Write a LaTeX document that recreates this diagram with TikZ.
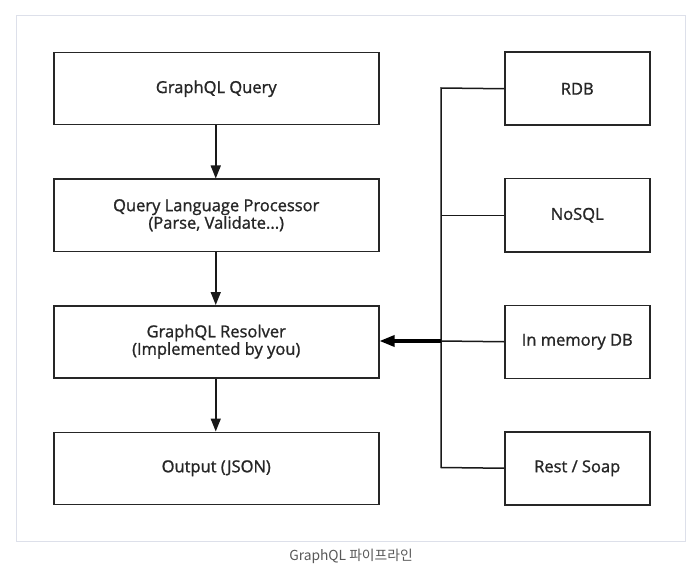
\documentclass[tikz,border=0pt]{standalone}
\usepackage{fontspec}
\setmainfont{Open Sans}
\newfontfamily\semib{Open Sans}[FakeBold=1.2]
\newfontfamily\cjkfont{Noto Sans CJK KR}
\usetikzlibrary{arrows.meta}
\begin{document}
\begin{tikzpicture}[x=1pt,y=-1pt,
  boxl/.style={draw=black!85,line width=1.5pt,minimum width=325pt,minimum height=72pt,inner sep=0pt,align=center,font=\semib\fontsize{16.5}{17.5}\selectfont,text=black!85,anchor=north west},
  boxr/.style={draw=black!85,line width=1.5pt,minimum width=145pt,minimum height=73pt,inner sep=0pt,align=center,font=\semib\fontsize{16.5}{17.5}\selectfont,text=black!85,anchor=north west},
  flow/.style={draw=black!90,line width=1.5pt,-{Triangle[length=13pt,width=10pt]}},
  wire/.style={draw=black!90,line width=1.5pt},
  bigflow/.style={draw=black,line width=3.2pt,-{Triangle[length=15pt,width=11pt]}}]
\useasboundingbox (0,0) rectangle (691,575);
\fill[white] (0,0) rectangle (691,575);
\node[draw={rgb,255:red,221;green,224;blue,234},line width=1pt,minimum width=669pt,minimum height=525pt,anchor=north west,inner sep=0pt] (frame) at (16,15.5) {};
\node[boxl] (q) at (53,52) {GraphQL Query};
\node[boxl] (p) at (53,178.5) {Query Language Processor\\(Parse, Validate...)};
\node[boxl] (r) at (53,305) {GraphQL Resolver\\(Implemented by you)};
\node[boxl] (o) at (53,431.5) {Output (JSON)};
\node[boxr] (rdb) at (504,51.5) {RDB};
\node[boxr] (nosql) at (504,178) {NoSQL};
\node[boxr] (mem) at (504,304.5) {In memory DB};
\node[boxr] (rest) at (504,431) {Rest / Soap};
\coordinate (t) at (441,88);
\coordinate (b) at (441,467.5);
\coordinate (m) at (441,341);
\draw[flow] ([xshift=-0.5pt]q.south) -- ([xshift=-0.5pt]p.north);
\draw[flow] ([xshift=-0.5pt]p.south) -- ([xshift=-0.5pt]r.north);
\draw[flow] ([xshift=-0.5pt]r.south) -- ([xshift=-0.5pt]o.north);
\draw[wire] (rdb.west) -- (t) -- (b) -- (rest.west);
\draw[wire] (nosql.west) -- (nosql.west -| t);
\draw[wire] (mem.west) -- (m);
\draw[bigflow] (m) -- (m -| r.east);
\node[font=\cjkfont\fontsize{13.8}{15}\selectfont,text=black!65] (cap) at (351,556) {GraphQL 파이프라인};
\end{tikzpicture}
\end{document}
